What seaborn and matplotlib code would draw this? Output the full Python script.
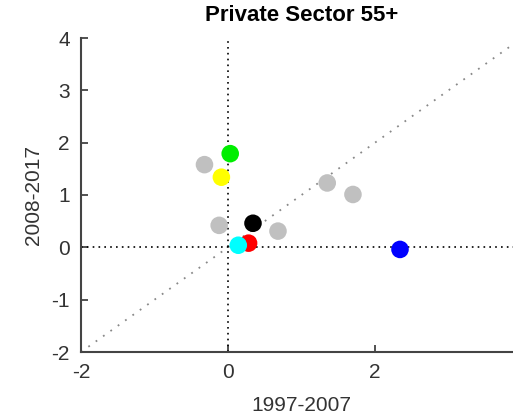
import matplotlib
matplotlib.use("Agg")
import matplotlib.pyplot as plt
import seaborn as sns
import pandas as pd

# Data (x: 1997-2007, y: 2008-2017)
gray_x = [-0.32, 1.35, 1.70, -0.12, 0.68]
gray_y = [1.58, 1.23, 1.01, 0.42, 0.31]
color_names = ["green", "yellow", "black", "red", "cyan", "blue"]
color_x = [0.03, -0.09, 0.34, 0.28, 0.14, 2.34]
color_y = [1.79, 1.34, 0.46, 0.08, 0.04, -0.04]
color_hex = ["#00ee00", "#ffff00", "#000000", "#ff0000", "#00ffff", "#0000ff"]
xticks = [-2, 0, 2]
yticks = [-2, -1, 0, 1, 2, 3, 4]

sns.set_theme(style="white")
plt.rcParams['font.family'] = ['Liberation Sans', 'DejaVu Sans']
plt.rcParams['axes.unicode_minus'] = False

fig = plt.figure(figsize=(5.13, 4.17), dpi=100)
ax = fig.add_axes([81/513, 1-352/417, (522-81)/513, (352-38)/417])

# reference lines
ax.plot([-2, 4], [-2, 4], linestyle=(0, (1, 4)), color="#888888", lw=1.3, zorder=1)
ax.axhline(0, linestyle=(0, (1, 2.5)), color="black", lw=1.2, zorder=1)
ax.axvline(0, linestyle=(0, (1, 2.5)), color="black", lw=1.2, zorder=1)

gdf = pd.DataFrame({"x": gray_x, "y": gray_y})
sns.scatterplot(data=gdf, x="x", y="y", color="#c0c0c0", s=160, edgecolor="none", ax=ax, zorder=2)
cdf = pd.DataFrame({"x": color_x, "y": color_y, "name": color_names})
sns.scatterplot(data=cdf, x="x", y="y", hue="name", palette=dict(zip(color_names, color_hex)),
                s=160, edgecolor="none", ax=ax, legend=False, zorder=3)

ax.set_xlim(-2, 4)
ax.set_ylim(-2, 4)
ax.set_xticks(xticks)
ax.set_yticks(yticks)
ax.tick_params(bottom=True, left=True, direction="in", length=5, width=1.2,
               colors="#333333", labelsize=15, pad=8)
for s in ["top", "right"]:
    ax.spines[s].set_visible(False)
for s in ["left", "bottom"]:
    ax.spines[s].set_color("#444444")
    ax.spines[s].set_linewidth(1.5)
ax.set_xlabel("1997-2007", fontsize=15, color="#333333", labelpad=10)
ax.set_ylabel("2008-2017", fontsize=15, color="#333333", labelpad=6)
ax.set_title("Private Sector 55+", fontsize=16, fontweight="bold", color="black", pad=12)

fig.savefig("out.png", dpi=100)
